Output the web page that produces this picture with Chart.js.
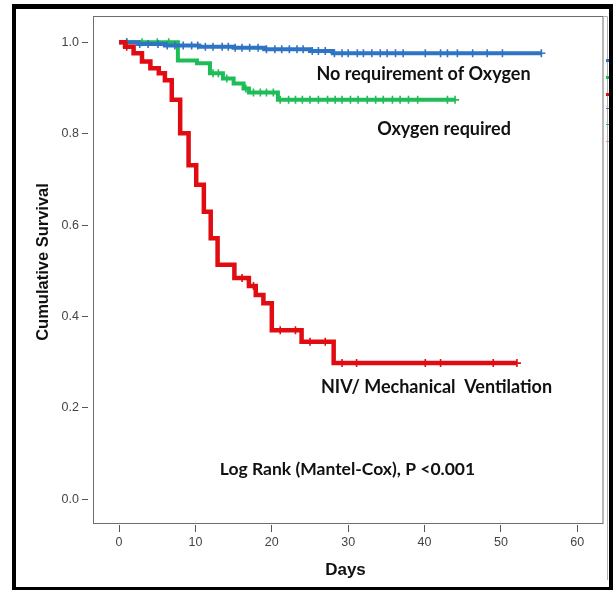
<!DOCTYPE html>
<html>
<head>
<meta charset="utf-8">
<script src="https://cdn.jsdelivr.net/npm/chart.js@4.4.1/dist/chart.umd.min.js"></script>
<style>
  html, body { margin: 0; padding: 0; background: #fff; }
  #wrap { position: relative; width: 613px; height: 590px; }
  #border { position: absolute; left: 12px; top: 4px; width: 601px; height: 586px;
            box-sizing: border-box; border: solid #000; border-width: 5px 4px 3px 4px;
            pointer-events: none; }
</style>
</head>
<body>
<div id="wrap">
  <canvas id="km" width="613" height="590"></canvas>
  <div id="border"></div>
</div>
<script>
// axis ticks
const xTicks = [0, 10, 20, 30, 40, 50, 60];
const yTicks = [0, 0.2, 0.4, 0.6, 0.8, 1.0];

// No requirement of Oxygen: event days / survival after event, censored days
const noO2Days = [0, 2.5, 6, 10.5, 15, 19, 25, 28];
const noO2Surv = [1, 0.996, 0.993, 0.990, 0.988, 0.985, 0.981, 0.976];
const noO2Censor = [1.0, 2.7, 3.8, 5.1, 6.3, 7.3, 8.4, 9.5, 10.3, 11.3, 12.3, 13.5, 14.3, 15.2,
  16.1, 17.1, 18.2, 19.3, 20.4, 21.3, 22.3, 23.3, 24.1, 25.3, 26.1, 27.0, 28.2, 29.2, 30.0,
  31.2, 32.0, 33.1, 34.2, 35.1, 36.2, 37.2, 40.1, 42.1, 43.0, 44.3, 46.3, 48.2, 50.2, 55.3];

// Oxygen required
const o2Days = [0, 7.7, 10.2, 11.9, 13.6, 15.0, 16.3, 17.0, 20.8];
const o2Surv = [1, 0.960, 0.954, 0.932, 0.921, 0.910, 0.899, 0.890, 0.874];
const o2Censor = [1.0, 3.0, 5.0, 6.5, 12.3, 13.0, 14.1, 16.6, 17.6, 18.5, 19.3, 20.2, 21.1,
  22.2, 23.1, 24.0, 25.0, 26.1, 27.3, 28.3, 29.2, 30.3, 31.3, 32.5, 33.6, 34.6, 35.8, 36.8,
  37.9, 39.1, 43.0, 44.0];

// NIV / Mechanical Ventilation
const nivDays = [0, 0.8, 1.9, 3.0, 4.1, 5.2, 6.0, 6.9, 8.0, 9.1, 10.1, 11.1, 12.0, 12.9,
  15.1, 17.0, 17.9, 18.9, 20.0, 23.9, 28.1];
const nivSurv = [1, 0.990, 0.976, 0.958, 0.943, 0.932, 0.917, 0.874, 0.801, 0.731, 0.688,
  0.629, 0.571, 0.513, 0.484, 0.467, 0.447, 0.429, 0.370, 0.345, 0.298];
const nivCensor = [1.0, 16.1, 17.6, 21.1, 23.1, 25.0, 27.0, 29.2, 31.1, 40.1, 42.1, 49.0, 52.1];

const blue = '#2f74c4';
const green = '#1fbd58';
const red = '#e10c12';

function survAt(days, surv, t) {
  let s = surv[0];
  for (let i = 0; i < days.length; i++) {
    if (days[i] <= t) s = surv[i];
  }
  return s;
}

function curve(days, surv, censor) {
  const pts = days.map((d, i) => ({ x: d, y: surv[i] }));
  pts.push({ x: Math.max(...censor), y: surv[surv.length - 1] });
  return pts;
}

function marks(days, surv, censor) {
  return censor.map(t => ({ x: t, y: survAt(days, surv, t) }));
}

function lineSet(data, color, w) {
  return { data: data, showLine: true, stepped: true, borderColor: color,
           borderWidth: w, pointRadius: 0, fill: false };
}

function markSet(data, color) {
  return { data: data, showLine: false, pointStyle: 'cross', pointRadius: 4,
           borderColor: color, borderWidth: 1.6, pointHoverRadius: 4 };
}

const notes = [
  { text: 'No requirement of Oxygen', x: 39.86, y: 0.931, font: 'bold 18px Lato' },
  { text: 'Oxygen required', x: 42.55, y: 0.810, font: 'bold 18px Lato' },
  { text: 'NIV/ Mechanical  Ventilation', x: 41.57, y: 0.246, font: 'bold 18px Lato' },
  { text: 'Log Rank (Mantel-Cox), P <0.001', x: 29.91, y: 0.066, font: 'bold 17.5px Lato' }
];

const framePlugin = {
  id: 'frame',
  beforeDatasetsDraw(chart) {
    const { ctx, chartArea: a } = chart;
    ctx.save();
    ctx.strokeStyle = '#6e6e6e';
    ctx.lineWidth = 1;
    ctx.strokeRect(a.left + 5.5, a.top + 0.5, a.right - a.left - 5.5, a.bottom - a.top - 2);
    // outer edge of the original chart box
    ctx.strokeStyle = '#b0b0b0';
    ctx.beginPath();
    ctx.moveTo(a.right, a.top + 0.5);
    ctx.lineTo(a.right + 4.5, a.top + 0.5);
    ctx.lineTo(a.right + 4.5, 580);
    ctx.stroke();
    ctx.restore();
  },
  afterDraw(chart) {
    const { ctx, scales: { x, y } } = chart;
    ctx.save();
    ctx.fillStyle = '#111';
    ctx.textAlign = 'center';
    ctx.textBaseline = 'middle';
    notes.forEach(n => {
      ctx.font = n.font;
      ctx.fillText(n.text, x.getPixelForValue(n.x), y.getPixelForValue(n.y));
    });
    ctx.font = 'bold 16.5px "Liberation Sans"';
    ctx.translate(43, 262);
    ctx.rotate(-Math.PI / 2);
    ctx.fillText('Cumulative Survival', 0, 0);
    ctx.restore();

    // bits of a cropped legend at the right edge
    ctx.save();
    ctx.fillStyle = blue; ctx.fillRect(606, 59, 3, 3);
    ctx.fillStyle = green; ctx.fillRect(606, 76, 3, 3);
    ctx.fillStyle = red; ctx.fillRect(606, 93, 3, 3);
    ctx.fillStyle = blue; ctx.fillRect(606, 108, 3, 1);
    ctx.fillStyle = green; ctx.fillRect(606, 124, 3, 1);
    ctx.fillStyle = '#e88'; ctx.fillRect(606, 141, 3, 1);
    ctx.restore();
  }
};

const tickFont = { family: 'Liberation Sans', size: 12.5 };

new Chart(document.getElementById('km'), {
  type: 'scatter',
  data: {
    datasets: [
      markSet(marks(nivDays, nivSurv, nivCensor), red),
      lineSet(curve(nivDays, nivSurv, nivCensor), red, 4.5),
      markSet(marks(noO2Days, noO2Surv, noO2Censor), blue),
      lineSet(curve(noO2Days, noO2Surv, noO2Censor), blue, 4),
      markSet(marks(o2Days, o2Surv, o2Censor), green),
      lineSet(curve(o2Days, o2Surv, o2Censor), green, 4)
    ]
  },
  options: {
    responsive: false,
    animation: false,
    devicePixelRatio: 1,
    layout: { padding: { top: 16, right: 10, left: 0, bottom: 0 } },
    plugins: { legend: { display: false }, tooltip: { enabled: false } },
    scales: {
      x: {
        type: 'linear', min: -4.07, max: 63.37,
        afterBuildTicks: s => { s.ticks = xTicks.map(v => ({ value: v })); },
        afterFit: s => { s.height = 65; },
        border: { display: false },
        grid: { drawOnChartArea: false, tickLength: 7, tickColor: '#555' },
        ticks: { padding: 3, color: '#444', font: tickFont, callback: v => v },
        title: { display: true, text: 'Days', color: '#111',
                 font: { family: 'Liberation Sans', size: 17, weight: 'bold' },
                 padding: { top: 0, bottom: 9 } }
      },
      y: {
        type: 'linear', min: -0.0562, max: 1.0575,
        afterBuildTicks: s => { s.ticks = yTicks.map(v => ({ value: v })); },
        afterFit: s => { s.width = 88; },
        border: { display: false },
        grid: { drawOnChartArea: false, tickLength: 6, tickColor: '#555' },
        ticks: { padding: 3, color: '#444', font: tickFont, callback: v => v.toFixed(1) }
      }
    }
  },
  plugins: [framePlugin]
});
</script>
</body>
</html>
